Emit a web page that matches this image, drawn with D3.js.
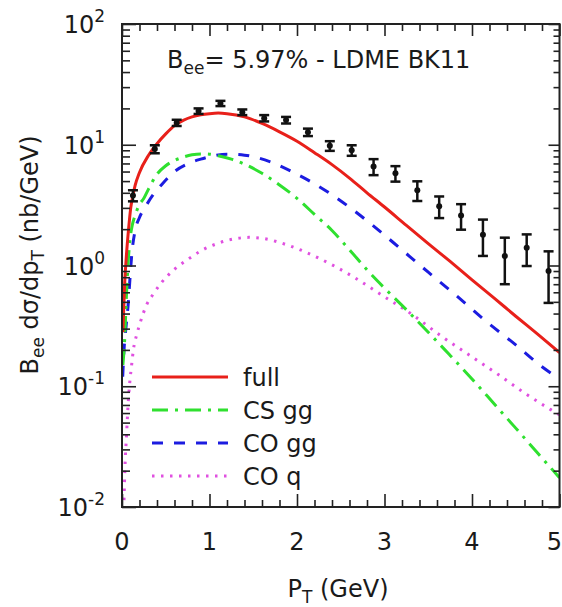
<!DOCTYPE html>
<html>
<head>
<meta charset="utf-8">
<script src="https://cdn.jsdelivr.net/npm/d3@7"></script>
<style>
  body { margin: 0; background: #fff; }
  svg { display: block; }
  text { font-family: "DejaVu Sans", Verdana, sans-serif; fill: #1a1a1a; }
</style>
</head>
<body>
<svg id="chart" width="562" height="607"></svg>
<script>
// ---- data -------------------------------------------------------------
const xTickValues = [0, 1, 2, 3, 4, 5];
const yTickExponents = [-2, -1, 0, 1, 2];

// measured points: pT bin centre, value, error
const ptData  = [0.125, 0.375, 0.625, 0.875, 1.125, 1.375, 1.625, 1.875, 2.125, 2.375,
                 2.625, 2.875, 3.125, 3.375, 3.625, 3.875, 4.125, 4.375, 4.625, 4.875];
const valData = [3.8, 9.2, 15.2, 19.0, 22.0, 18.6, 16.6, 16.0, 12.7, 9.8,
                 9.0, 6.6, 5.8, 4.2, 3.1, 2.6, 1.8, 1.2, 1.4, 0.9];
const errData = [0.4, 0.7, 0.9, 1.0, 1.1, 1.0, 1.0, 1.0, 0.9, 0.9,
                 0.9, 1.0, 0.85, 0.78, 0.63, 0.62, 0.6, 0.5, 0.41, 0.41];

// theory curves
const ptFull = [0.01, 0.03, 0.05, 0.075, 0.1, 0.125, 0.15, 0.2, 0.3, 0.4, 0.5, 0.6, 0.7, 0.8, 0.9,
                1.0, 1.1, 1.2, 1.4, 1.6, 1.8, 2.0, 2.2, 2.4, 2.6, 2.8, 3.0, 3.25, 3.5, 3.75,
                4.0, 4.25, 4.5, 4.75, 5.0];
const full   = [0.28, 0.7, 1.2, 2.0, 3.0, 3.8, 4.6, 5.9, 8.1, 10.2, 12.3, 14.4, 15.9, 17.0, 17.7,
                18.1, 18.3, 18.1, 17.0, 15.0, 12.8, 10.7, 8.6, 6.85, 5.3, 4.0, 3.05, 2.15, 1.52, 1.08,
                0.76, 0.54, 0.38, 0.27, 0.19];

const ptCSgg = [0.01, 0.03, 0.05, 0.07, 0.09, 0.12, 0.15, 0.2, 0.25, 0.3, 0.4, 0.5, 0.6, 0.7, 0.8,
                0.9, 1.0, 1.1, 1.25, 1.4, 1.6, 1.8, 2.0, 2.2, 2.4, 2.6, 2.8, 3.0, 3.25, 3.5,
                3.75, 4.0, 4.25, 4.5, 4.75, 5.0];
const csgg   = [0.15, 0.24, 0.55, 1.05, 1.6, 2.2, 2.6, 3.2, 3.6, 4.25, 5.7, 6.7, 7.4, 7.9, 8.25,
                8.4, 8.35, 8.1, 7.6, 6.9, 5.8, 4.65, 3.6, 2.65, 1.95, 1.35, 0.92, 0.65, 0.43, 0.28,
                0.18, 0.115, 0.072, 0.045, 0.028, 0.0175];

const ptCOgg = [0.008, 0.023, 0.046, 0.072, 0.09, 0.11, 0.15, 0.2, 0.26, 0.35, 0.45, 0.6, 0.75, 0.9,
                1.05, 1.2, 1.4, 1.7, 2.0, 2.2, 2.4, 2.65, 2.9, 3.1, 3.5, 3.8, 4.15, 4.5, 4.8, 5.0];
const cogg   = [0.12, 0.2, 0.31, 0.49, 0.76, 1.2, 1.95, 2.5, 3.0, 3.8, 4.65, 6.0, 6.95, 7.6,
                8.1, 8.35, 8.2, 7.2, 5.7, 4.75, 3.85, 2.85, 2.05, 1.55, 0.88, 0.58, 0.35, 0.22, 0.145, 0.115];

const ptCOq  = [0.023, 0.034, 0.053, 0.072, 0.09, 0.11, 0.13, 0.17, 0.21, 0.28, 0.35, 0.45, 0.6, 0.75,
                0.9, 1.1, 1.3, 1.45, 1.6, 1.9, 2.25, 2.65, 3.0, 3.3, 3.65, 4.0, 4.3, 4.6, 4.9, 5.0];
const coq    = [0.0114, 0.0214, 0.041, 0.075, 0.11, 0.15, 0.2, 0.27, 0.34, 0.47, 0.57, 0.72, 0.93, 1.12,
                1.32, 1.53, 1.67, 1.71, 1.68, 1.47, 1.15, 0.80, 0.55, 0.40, 0.26, 0.175, 0.125, 0.088, 0.064, 0.058];

const seriesNames = ["full", "CS gg", "CO gg", "CO q"];

// ---- layout -----------------------------------------------------------
const plotL = 122, plotR = 559.5, plotT = 24, plotB = 507;
const svg = d3.select("#chart");
const x = d3.scaleLinear().domain([0, 5]).range([plotL, plotR]);
const y = d3.scaleLog().domain([0.01, 100]).range([plotB, plotT]);

const styles = [
  { color: "#e8201a", dash: null },
  { color: "#2fe02f", dash: "16,7,3,7" },
  { color: "#1c1ce0", dash: "11,11" },
  { color: "#e050e0", dash: "2.5,6.5" }
];

// ---- clipped curves ---------------------------------------------------
svg.append("clipPath").attr("id", "plotClip")
  .append("rect").attr("x", plotL).attr("y", plotT).attr("width", plotR - plotL).attr("height", plotB - plotT);

const line = d3.line().x(d => x(d[0])).y(d => y(d[1])).curve(d3.curveMonotoneX);
const curves = [
  d3.zip(ptFull, full),
  d3.zip(ptCSgg, csgg),
  d3.zip(ptCOgg, cogg),
  d3.zip(ptCOq, coq)
];
const gCurves = svg.append("g").attr("clip-path", "url(#plotClip)");
// back-to-front so the solid line sits on top
[3, 2, 1, 0].forEach(i => {
  gCurves.append("path")
    .attr("d", line(curves[i]))
    .attr("fill", "none")
    .attr("stroke", styles[i].color)
    .attr("stroke-width", 3)
    .attr("stroke-dasharray", styles[i].dash);
});

// ---- data points with error bars ---------------------------------------
const pts = d3.zip(ptData, valData, errData);
const gPts = svg.append("g").attr("stroke", "#111").attr("stroke-width", 2.5);
pts.forEach(([p, v, e]) => {
  const cx = x(p);
  gPts.append("line").attr("x1", cx).attr("x2", cx).attr("y1", y(v - e)).attr("y2", y(v + e));
  gPts.append("line").attr("x1", cx - 5).attr("x2", cx + 5).attr("y1", y(v - e)).attr("y2", y(v - e));
  gPts.append("line").attr("x1", cx - 5).attr("x2", cx + 5).attr("y1", y(v + e)).attr("y2", y(v + e));
  gPts.append("circle").attr("cx", cx).attr("cy", y(v)).attr("r", 3).attr("fill", "#111").attr("stroke", "none");
});

// ---- axes (inward ticks on all four sides) ------------------------------
const xMinor = d3.range(0, 5.001, 0.2).filter(v => Math.abs(v - Math.round(v)) > 1e-6);
const yMajor = yTickExponents.map(k => Math.pow(10, k));
const yMinor = [];
yTickExponents.slice(0, -1).forEach(k => { for (let m = 2; m <= 9; m++) yMinor.push(m * Math.pow(10, k)); });

function axisGroup(gen, tx, ty) {
  const g = svg.append("g").attr("transform", `translate(${tx},${ty})`).call(gen);
  g.select(".domain").remove();
  g.selectAll("line").attr("stroke", "#222").attr("stroke-width", 1.6);
  return g;
}
axisGroup(d3.axisBottom(x).tickValues(xTickValues).tickSize(-13).tickFormat(""), 0, plotB);
axisGroup(d3.axisBottom(x).tickValues(xMinor).tickSize(-7).tickFormat(""), 0, plotB);
axisGroup(d3.axisTop(x).tickValues(xTickValues).tickSize(-12).tickFormat(""), 0, plotT);
axisGroup(d3.axisTop(x).tickValues(xMinor).tickSize(-7).tickFormat(""), 0, plotT);
axisGroup(d3.axisLeft(y).tickValues(yMajor).tickSize(-14).tickFormat(""), plotL, 0);
axisGroup(d3.axisLeft(y).tickValues(yMinor).tickSize(-8).tickFormat(""), plotL, 0);
axisGroup(d3.axisRight(y).tickValues(yMajor).tickSize(-11).tickFormat(""), plotR, 0);
axisGroup(d3.axisRight(y).tickValues(yMinor).tickSize(-6).tickFormat(""), plotR, 0);

// frame
svg.append("rect")
  .attr("x", plotL).attr("y", plotT).attr("width", plotR - plotL).attr("height", plotB - plotT)
  .attr("fill", "none").attr("stroke", "#222").attr("stroke-width", 2);

// tick labels (the last one is kept inside the canvas edge)
const lastX = xTickValues[xTickValues.length - 1];
svg.append("g").selectAll("text").data(xTickValues).join("text")
  .attr("x", d => d === lastX ? 562 : x(d)).attr("y", 550)
  .attr("text-anchor", d => d === lastX ? "end" : "middle")
  .attr("font-size", 24).text(d => d);

const yl = svg.append("g").selectAll("text").data(yTickExponents).join("text")
  .attr("x", 105).attr("y", d => y(Math.pow(10, d)) + 9).attr("text-anchor", "end")
  .attr("font-size", 24);
yl.append("tspan").text("10");
yl.append("tspan").attr("font-size", 17).attr("dy", -11).text(d => d);

// ---- title ---------------------------------------------------------------
const title = svg.append("text").attr("x", 167).attr("y", 68).attr("font-size", 24);
title.append("tspan").text("B");
title.append("tspan").attr("font-size", 17).attr("dy", 6).text("ee");
title.append("tspan").attr("dy", -6).text("= 5.97% - LDME BK11");

// ---- axis titles ---------------------------------------------------------
const xt = svg.append("text").attr("x", 338).attr("y", 597).attr("text-anchor", "middle").attr("font-size", 24);
xt.append("tspan").text("P");
xt.append("tspan").attr("font-size", 17).attr("dy", 6).text("T");
xt.append("tspan").attr("dy", -6).text(" (GeV)");

const ytl = svg.append("text").attr("transform", "translate(38,255) rotate(-90)")
  .attr("text-anchor", "middle").attr("font-size", 24);
ytl.append("tspan").text("B");
ytl.append("tspan").attr("font-size", 17).attr("dy", 6).text("ee");
ytl.append("tspan").attr("dy", -6).text(" dσ/dp");
ytl.append("tspan").attr("font-size", 17).attr("dy", 6).text("T");
ytl.append("tspan").attr("dy", -6).text(" (nb/GeV)");

// ---- legend --------------------------------------------------------------
const legendRows = [377, 410, 443, 476];
const lg = svg.append("g");
seriesNames.forEach((name, i) => {
  lg.append("line")
    .attr("x1", 152).attr("x2", 228).attr("y1", legendRows[i]).attr("y2", legendRows[i])
    .attr("stroke", styles[i].color).attr("stroke-width", 3)
    .attr("stroke-dasharray", styles[i].dash);
  lg.append("text").attr("x", 243).attr("y", legendRows[i]).attr("dy", "0.36em")
    .attr("font-size", 24).text(name);
});
</script>
</body>
</html>
